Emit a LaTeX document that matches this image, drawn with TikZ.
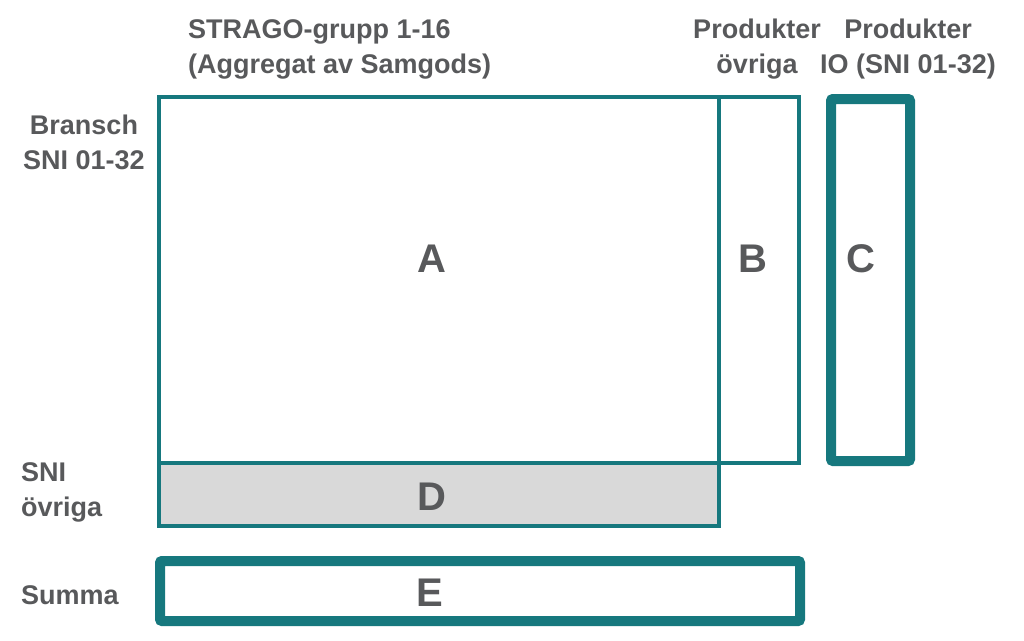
\documentclass[tikz,border=0pt]{standalone}
\usepackage{fontspec}
\setmainfont{Liberation Sans}
\definecolor{teal1}{HTML}{16787E}
\definecolor{txt}{HTML}{58595B}
\definecolor{grayfill}{HTML}{D9D9D9}
\begin{document}
\begin{tikzpicture}[x=1pt,y=-1pt,
  thinbox/.style={draw=teal1,line width=3.5pt},
  thickbox/.style={draw=teal1,line width=10pt,rounded corners=2pt},
  letter/.style={text=txt,font=\bfseries\fontsize{40}{40}\selectfont},
  lbl/.style={text=txt,font=\bfseries\fontsize{27}{35}\selectfont,inner sep=0pt}]
\useasboundingbox (0,0) rectangle (1024,640);
% boxes
\fill[grayfill] (159,463) rectangle (719,526);
\draw[thinbox] (159,97) rectangle (719,463);
\draw[thinbox] (719,97) rectangle (799,463);
\draw[thinbox] (159,463) rectangle (719,526);
\draw[thickbox] (831,99) rectangle (910,461);
\draw[thickbox] (160,561) rectangle (800,621);
% letters
\node[letter] (A) at (432,259) {A};
\node[letter] (B) at (753,259) {B};
\node[letter] (C) at (861,259) {C};
\node[letter] (D) at (432,497) {D};
\node[letter] (E) at (430,593) {E};
% labels
\node[lbl,align=left,anchor=north west] (top) at (188,19) {STRAGO-grupp 1-16\\(Aggregat av Samgods)};
\node[lbl,align=center,anchor=north] (pb) at (757,19) {Produkter\\övriga};
\node[lbl,align=center,anchor=north] (pc) at (908,19) {Produkter\\IO (SNI 01-32)};
\node[lbl,align=center,anchor=north] (br) at (84,115) {Bransch\\SNI 01-32};
\node[lbl,align=left,anchor=north west] (sni) at (21,462) {SNI\\övriga};
\node[lbl,anchor=west] (sum) at (21,595) {Summa};
\end{tikzpicture}
\end{document}
